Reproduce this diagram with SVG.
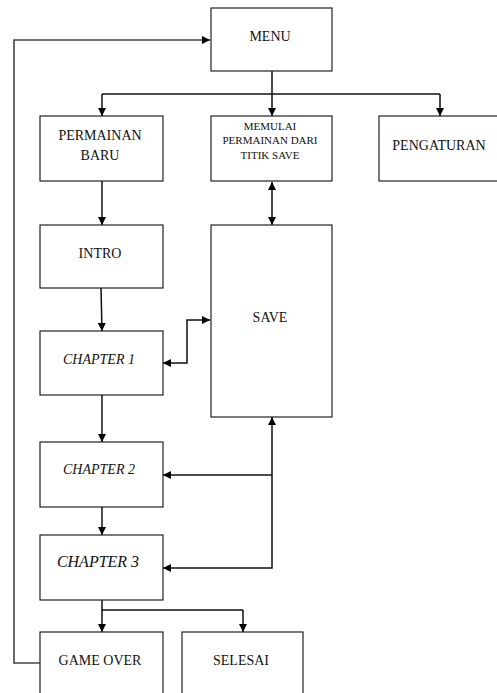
<svg xmlns="http://www.w3.org/2000/svg" width="497" height="693" viewBox="0 0 497 693">
<style>
.box{fill:#fff;stroke:#222;stroke-width:1.2}
.t{font-family:'Liberation Serif',serif;font-size:14px;fill:#111;text-anchor:middle}
.i{font-style:italic}
.s{font-size:11px}
.c{fill:none;stroke:#111;stroke-width:1.5}
.g{fill:none;stroke:#444;stroke-width:1.6}
</style>
<defs>
<marker id="a" viewBox="0 0 10 10" refX="10" refY="5" markerWidth="8" markerHeight="8" markerUnits="userSpaceOnUse" orient="auto-start-reverse">
<path d="M0,0 L10,5 L0,10 Z" fill="#000"/>
</marker>
</defs>
<rect width="497" height="693" fill="#fff"/>
<g id="connectors">
<path class="g" d="M40,663 H14 V40 H210" marker-end="url(#a)"/>
<path class="c" d="M272,71 V94"/>
<path class="c" d="M102,94 H440"/>
<path class="c" d="M102,94 V116" marker-end="url(#a)"/>
<path class="c" d="M272,94 V116" marker-end="url(#a)"/>
<path class="c" d="M440,94 V116" marker-end="url(#a)"/>
<path class="c" d="M102,181 V225" marker-end="url(#a)"/>
<path class="c" d="M272,182 V225" marker-start="url(#a)" marker-end="url(#a)"/>
<path class="c" d="M101,288 L102,331" marker-end="url(#a)"/>
<path class="c" d="M163,363 H187 V320 H210" marker-start="url(#a)" marker-end="url(#a)"/>
<path class="c" d="M102,395 V442" marker-end="url(#a)"/>
<path class="c" d="M102,507 V535" marker-end="url(#a)"/>
<path class="c" d="M272,417 V568 H163" marker-start="url(#a)" marker-end="url(#a)"/>
<path class="c" d="M272,475 H163" marker-end="url(#a)"/>
<path class="c" d="M102,600 V610 H243"/>
<path class="c" d="M102,610 V632" marker-end="url(#a)"/>
<path class="c" d="M243,610 V632" marker-end="url(#a)"/>
</g>
<g font-family="Liberation Serif, serif">
<g id="menu"><rect class="box" x="211" y="8" width="121" height="63"/><text class="t" x="270" y="41">MENU</text></g>
<g id="permainan-baru"><rect class="box" x="40" y="116" width="123" height="65"/><text class="t" x="100" y="140">PERMAINAN</text><text class="t" x="100" y="160">BARU</text></g>
<g id="memulai"><rect class="box" x="211" y="116" width="121" height="65"/><text class="t s" x="270" y="130">MEMULAI</text><text class="t s" x="270" y="144">PERMAINAN DARI</text><text class="t s" x="270" y="159">TITIK SAVE</text></g>
<g id="pengaturan"><rect class="box" x="379" y="116" width="125" height="65"/><text class="t" x="439" y="150">PENGATURAN</text></g>
<g id="intro"><rect class="box" x="40" y="225" width="123" height="63"/><text class="t" x="100" y="258">INTRO</text></g>
<g id="save"><rect class="box" x="211" y="225" width="121" height="192"/><text class="t" x="270" y="322">SAVE</text></g>
<g id="chapter1"><rect class="box" x="40" y="331" width="123" height="64"/><text class="t i" x="99" y="364">CHAPTER 1</text></g>
<g id="chapter2"><rect class="box" x="40" y="442" width="123" height="65"/><text class="t i" x="99" y="474">CHAPTER 2</text></g>
<g id="chapter3"><rect class="box" x="40" y="535" width="123" height="65"/><text class="t i" x="98" y="567" style="font-size:16px">CHAPTER 3</text></g>
<g id="game-over"><rect class="box" x="40" y="632" width="123" height="70"/><text class="t" x="100" y="665">GAME OVER</text></g>
<g id="selesai"><rect class="box" x="182" y="632" width="121" height="70"/><text class="t" x="241" y="665">SELESAI</text></g>
</g>
</svg>
